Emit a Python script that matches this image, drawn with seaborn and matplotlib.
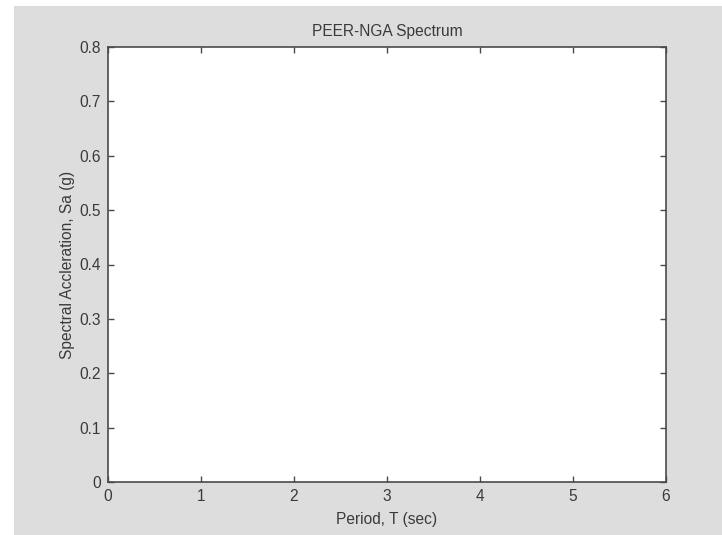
import matplotlib
matplotlib.use("Agg")
import matplotlib.pyplot as plt
import seaborn as sns
import pandas as pd
from matplotlib.patches import Rectangle

# Data (the reference chart is an empty spectrum plot)
periods = []
sa_values = []
x_ticks = [0, 1, 2, 3, 4, 5, 6]
y_ticks = [0, 0.1, 0.2, 0.3, 0.4, 0.5, 0.6, 0.7, 0.8]
title = "PEER-NGA Spectrum"
x_label = "Period, T (sec)"
y_label = "Spectral Accleration, Sa (g)"

sns.set_style("ticks")
plt.rcParams['font.family'] = ['Liberation Sans', 'DejaVu Sans']

W, H = 722, 535
fig = plt.figure(figsize=(W / 100, H / 100), dpi=100)
fig.patch.set_facecolor("white")
fig.patches.append(Rectangle((14 / W, 0), 1 - 14 / W, 1 - 6 / H,
                             transform=fig.transFigure, facecolor="#dddddd",
                             edgecolor="none", zorder=-10))

ax = fig.add_axes([108 / W, (H - 482) / H, (666 - 108) / W, (482 - 47) / H])
df = pd.DataFrame({"T": pd.Series(periods, dtype=float), "Sa": pd.Series(sa_values, dtype=float)})
sns.lineplot(data=df, x="T", y="Sa", ax=ax)
ax.set_facecolor("white")
ax.set_xlim(0, 6)
ax.set_ylim(0, 0.8)
ax.set_xticks(x_ticks)
ax.set_xticklabels([f"{t:g}" for t in x_ticks])
ax.set_yticks(y_ticks)
ax.set_yticklabels([f"{t:g}" for t in y_ticks])

txt = "#3a3a3a"
fs = 11.2
for s in ax.spines.values():
    s.set_visible(True)
    s.set_color("#4a4a4a")
    s.set_linewidth(1.2)
ax.tick_params(direction="in", length=4, width=1, color="#4a4a4a",
               top=True, right=True, labelsize=fs, labelcolor=txt, pad=5)
ax.set_title(title, fontsize=fs, color=txt, pad=8)
ax.set_xlabel(x_label, fontsize=fs, color=txt, labelpad=6)
ax.set_ylabel(y_label, fontsize=fs, color=txt, labelpad=3)

fig.savefig("out.png", dpi=100)
